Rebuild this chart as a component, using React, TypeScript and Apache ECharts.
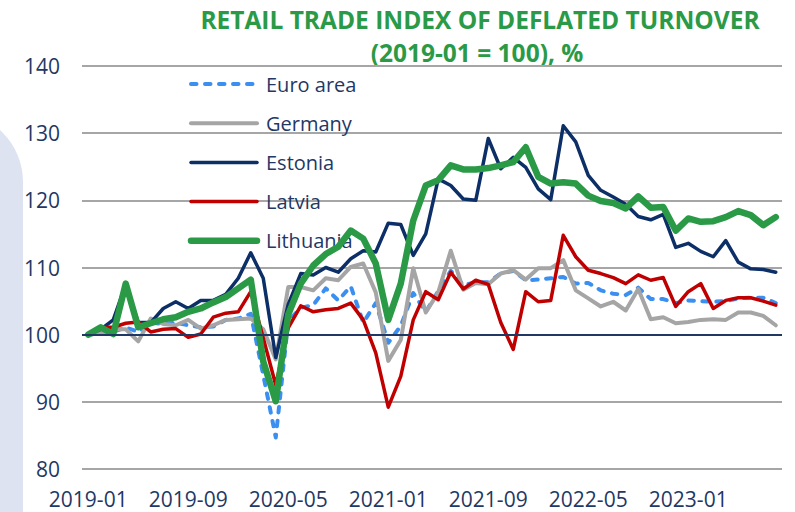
import React, { useEffect, useRef } from "react";
import * as echarts from "echarts";

// Monthly categories 2019-01 … 2023-08
const months: string[] = [];
for (let i = 0; i < 56; i++) {
  const y = 2019 + Math.floor(i / 12);
  const m = (i % 12) + 1;
  months.push(`${y}-${m < 10 ? "0" + m : m}`);
}

const euroArea = [
  100, 100.2, 100.4, 101.1, 100.4, 101.8, 101.6, 101.8, 101.4, 101.1, 101.2, 102.2, 102.4, 103.1, 94, 84.7,
  102, 104, 104.4, 106.9, 105.1, 107.2, 101.8, 104.7, 98.8, 101.3, 106.2, 103.4, 106.5, 109.5, 107.4, 107.8,
  107.8, 109.1, 109.5, 108.1, 108.2, 108.4, 108.6, 107.6, 107.7, 106.6, 106.1, 105.9, 107, 105.3, 105.3, 104.7,
  105.1, 105, 104.9, 105, 105.4, 105.5, 105.5, 104.7,
];
const germany = [
  100, 100.2, 100.8, 100.8, 99, 102.4, 101.6, 101.4, 102.2, 100.9, 101.4, 102.2, 102.3, 102.4, 100.8, 96.3,
  107.1, 107.1, 106.6, 108.4, 108.1, 110.1, 110.6, 106.3, 96.1, 99.2, 109.9, 103.3, 106.3, 112.5, 106.7, 107.7,
  107.5, 109.1, 109.6, 108.2, 109.9, 109.9, 111.1, 106.6, 105.4, 104.2, 104.9, 103.6, 106.8, 102.3, 102.6, 101.7,
  101.9, 102.2, 102.3, 102.2, 103.3, 103.3, 102.8, 101.4,
];
const estonia = [
  100, 100.8, 102.2, 107.5, 101.8, 101.8, 103.9, 104.9, 103.9, 105.1, 105.1, 106, 108.4, 112.2, 108.4, 96.6,
  104.5, 109.1, 108.9, 110, 109.3, 111.3, 112.5, 112.3, 116.6, 116.4, 111.8, 115, 123.2, 122.2, 120.2, 120,
  129.2, 124.7, 126.4, 124.9, 121.7, 120.1, 131.1, 128.7, 123.7, 121.5, 120.5, 119.4, 117.6, 117.1, 117.9, 113,
  113.6, 112.4, 111.6, 114, 110.8, 109.8, 109.7, 109.3,
];
const latvia = [
  100, 101.1, 101.1, 101.7, 101.9, 100.4, 100.8, 100.9, 99.6, 100.1, 102.6, 103.2, 103.4, 106.4, 99.5, 92.5,
  101, 104.3, 103.4, 103.7, 103.9, 104.7, 102.2, 97.3, 89.2, 93.8, 102.2, 106.4, 105.2, 109.3, 106.8, 108.1,
  107.5, 101.8, 97.8, 106.4, 104.9, 105.1, 114.8, 111.6, 109.6, 109.1, 108.5, 107.6, 108.9, 108.1, 108.5, 104.2,
  106.4, 107.6, 103.9, 105.1, 105.5, 105.5, 105, 104.4,
];
const lithuania = [
  100, 101.1, 100.1, 107.6, 101.1, 101.7, 102.3, 102.6, 103.4, 103.9, 104.8, 105.6, 106.9, 108.2, 96, 90.1,
  103, 107.6, 110.3, 112, 113.1, 115.5, 114.3, 110.6, 102.2, 107.6, 117, 122.2, 123, 125.2, 124.6, 124.6,
  124.8, 125.2, 125.7, 127.9, 123.5, 122.5, 122.7, 122.5, 120.7, 119.9, 119.6, 118.8, 120.6, 118.9, 119, 115.5,
  117.3, 116.8, 116.9, 117.5, 118.4, 117.8, 116.3, 117.5,
];

const yTicks = { min: 80, max: 140, interval: 10 };
const titleLines = ["RETAIL TRADE INDEX OF DEFLATED TURNOVER", "(2019-01 = 100), %"];
const seriesNames = ["Euro area", "Germany", "Estonia", "Latvia", "Lithuania"];

const NAVY_TEXT = "#1f3864";
const GREEN = "#2a9a47";
const FONT = "'Open Sans', sans-serif";

const styles: { color: string; width: number; dash: number[] | null }[] = [
  { color: "#3b8ff0", width: 4, dash: [5.5, 8.5] },
  { color: "#a5a5a5", width: 4, dash: null },
  { color: "#0b2f66", width: 3.5, dash: null },
  { color: "#c00000", width: 3.5, dash: null },
  { color: "#2a9a47", width: 6.5, dash: null },
];

export default function App() {
  const ref = useRef<HTMLDivElement>(null);
  useEffect(() => {
    if (!ref.current) return;
    const chart = echarts.init(ref.current, undefined, { renderer: "svg" });
    const dataSets = [euroArea, germany, estonia, latvia, lithuania];

    const legendEls: any[] = [];
    seriesNames.forEach((name, k) => {
      const cy = 84 + k * 39.2;
      const st = styles[k];
      legendEls.push({
        type: "line",
        silent: true,
        z: 1,
        shape: { x1: 191, y1: cy, x2: 257, y2: cy },
        style: {
          stroke: st.color,
          lineWidth: st.width,
          lineCap: "round",
          lineDash: st.dash || undefined,
        },
      });
      legendEls.push({
        type: "text",
        silent: true,
        z: 1,
        x: 266,
        y: cy,
        style: {
          text: name,
          fill: NAVY_TEXT,
          font: `20px ${FONT}`,
          align: "left",
          verticalAlign: "middle",
        },
      });
    });

    chart.setOption({
      animation: false,
      backgroundColor: "#ffffff",
      textStyle: { fontFamily: FONT },
      grid: { left: 82, right: 13, top: 66, bottom: 43, containLabel: false },
      graphic: [
        {
          type: "rect",
          z: -10,
          silent: true,
          shape: { x: -60, y: 112, width: 83, height: 450, r: [0, 70, 0, 0] },
          style: { fill: "#dde3f1" },
        },
        {
          type: "text",
          x: 480,
          y: 19,
          style: {
            text: titleLines[0],
            fill: GREEN,
            font: `bold 24.5px ${FONT}`,
            align: "center",
            verticalAlign: "middle",
          },
        },
        {
          type: "text",
          x: 477,
          y: 52,
          style: {
            text: titleLines[1],
            fill: GREEN,
            font: `bold 24.5px ${FONT}`,
            align: "center",
            verticalAlign: "middle",
          },
        },
        ...legendEls,
      ],
      xAxis: {
        type: "category",
        data: months,
        boundaryGap: true,
        axisLine: { show: false },
        axisTick: { show: false },
        axisLabel: { interval: 7, color: NAVY_TEXT, fontSize: 21, margin: 19, fontFamily: FONT },
        splitLine: { show: false },
      },
      yAxis: {
        type: "value",
        min: yTicks.min,
        max: yTicks.max,
        interval: yTicks.interval,
        axisLine: { show: false },
        axisTick: { show: false },
        axisLabel: { color: NAVY_TEXT, fontSize: 21, margin: 22, fontFamily: FONT },
        splitLine: { lineStyle: { color: "#a6a6a6", width: 2 } },
      },
      series: seriesNames.map((name, k) => ({
        name,
        type: "line",
        z: 2,
        data: dataSets[k],
        symbol: "none",
        showSymbol: false,
        lineStyle: {
          color: styles[k].color,
          width: styles[k].width,
          type: styles[k].dash || "solid",
          cap: "round",
          join: "round",
        },
        itemStyle: { color: styles[k].color },
        ...(k === 0
          ? {
              markLine: {
                silent: true,
                symbol: "none",
                label: { show: false },
                lineStyle: { color: "#1f3864", width: 2, type: "solid" },
                data: [{ yAxis: 100 }],
              },
            }
          : {}),
      })),
    });
    return () => chart.dispose();
  }, []);
  return <div ref={ref} style={{ position: "fixed", left: 0, top: 0, width: 795, height: 512 }} />;
}
